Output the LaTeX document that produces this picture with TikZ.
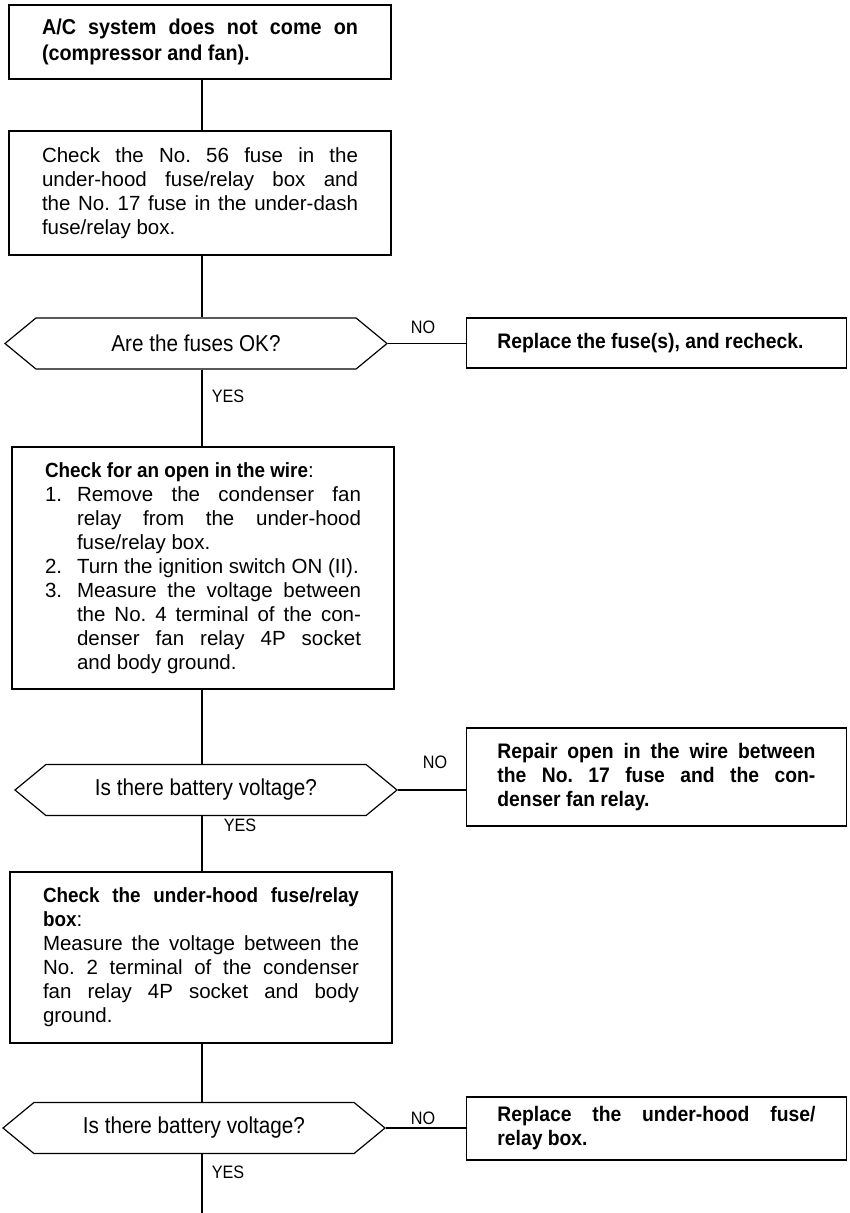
\documentclass[tikz,border=0pt]{standalone}
\usepackage{fontspec}
\setmainfont{Liberation Sans}
\newfontfamily\condfont{Liberation Sans}[FakeStretch=0.9]
\newfontfamily\headfont{Liberation Sans}[FakeStretch=0.92]
\usetikzlibrary{shapes.symbols}
\tolerance=10000 \hbadness=10000
\frenchspacing
\setlength{\parindent}{0pt}
\newcommand\bodysize{\fontsize{20.5}{24}\selectfont}
\newcommand\hd[1]{{\headfont\bfseries #1}}
\newcommand\stepitem[1]{\par\hangindent=32pt\hangafter=1\makebox[32pt][l]{#1}}

\begin{document}
\begin{tikzpicture}[x=1pt, y=-1pt, line width=1.2pt,
	every node/.style={inner sep=0pt},
	stepbox/.style={draw, text width=316pt, inner xsep=33pt, align=justify, font=\bodysize},
	fixbox/.style={draw, text width=318pt, inner xsep=31pt, align=justify, anchor=east, font=\headfont\bfseries\fontsize{21}{24}\selectfont},
	query/.style={draw, signal, signal to=west and east, signal pointer angle=79, minimum width=382pt, minimum height=51pt, font=\condfont\fontsize{23}{26}\selectfont},
	answer/.style={font=\condfont\fontsize{18}{20}\selectfont}]
	\useasboundingbox (0,0) rectangle (849,1213);
	\coordinate (spine) at (202,0);
	\coordinate (exit) at (202,1213);
	% main column
	\node[stepbox, minimum height=74pt, font=\headfont\bfseries\fontsize{21.5}{26}\selectfont] (start) at (200,42) {A/C system does not come on\linebreak (compressor and fan).};
	\node[stepbox, minimum height=124pt] (fuses) at (200,193) {Check the No. 56 fuse in the\linebreak under-hood fuse/relay box and\linebreak the No. 17 fuse in the under-dash\linebreak fuse/relay box.};
	\node[query] (fuseok) at (196,343.5) {Are the fuses OK?};
	\node[stepbox, minimum height=242pt] (wire) at (203,568) {\hd{Check for an open in the wire}:%
		\stepitem{1.}Remove the condenser fan\linebreak relay from the under-hood\linebreak fuse/relay box.%
		\stepitem{2.}Turn the ignition switch ON (II).%
		\stepitem{3.}Measure the voltage between\linebreak the No. 4 terminal of the con-\linebreak denser fan relay 4P socket\linebreak and body ground.\par};
	\node[query] (voltA) at (206,790) {Is there battery voltage?};
	\node[stepbox, minimum height=171pt] (relaybox) at (201,957.5) {\hd{Check the under-hood fuse/relay\linebreak box}:\par Measure the voltage between the\linebreak No. 2 terminal of the condenser\linebreak fan relay 4P socket and body\linebreak ground.};
	\node[query] (voltB) at (194,1128) {Is there battery voltage?};
	% NO branches
	\node[fixbox, minimum height=50pt] (newfuse) at (847,343) {Replace the fuse(s), and recheck.};
	\node[fixbox, minimum height=98pt] (repair) at (847,777) {Repair open in the wire between\linebreak the No. 17 fuse and the con-\linebreak denser fan relay.};
	\node[fixbox, minimum height=63pt] (newbox) at (847,1128.5) {Replace the under-hood fuse/\linebreak relay box.};
	% answers
	\node[answer] (no1) at (423,327) {NO};
	\node[answer] (yes1) at (228,396) {YES};
	\node[answer] (no2) at (435,762) {NO};
	\node[answer] (yes2) at (240,825) {YES};
	\node[answer] (no3) at (423,1118) {NO};
	\node[answer] (yes3) at (228,1172) {YES};
	% connectors
	\draw (start.south -| spine) -- (fuses.north -| spine);
	\draw (fuses.south -| spine) -- (fuseok.north -| spine);
	\draw (fuseok.south -| spine) -- (wire.north -| spine);
	\draw (wire.south -| spine) -- (voltA.north -| spine);
	\draw (voltA.south -| spine) -- (relaybox.north -| spine);
	\draw (relaybox.south -| spine) -- (voltB.north -| spine);
	\draw (voltB.south -| spine) -- (exit);
	\draw (fuseok.east) -- (fuseok.east -| newfuse.west);
	\draw (voltA.east) -- (voltA.east -| repair.west);
	\draw (voltB.east) -- (voltB.east -| newbox.west);
\end{tikzpicture}
\end{document}
